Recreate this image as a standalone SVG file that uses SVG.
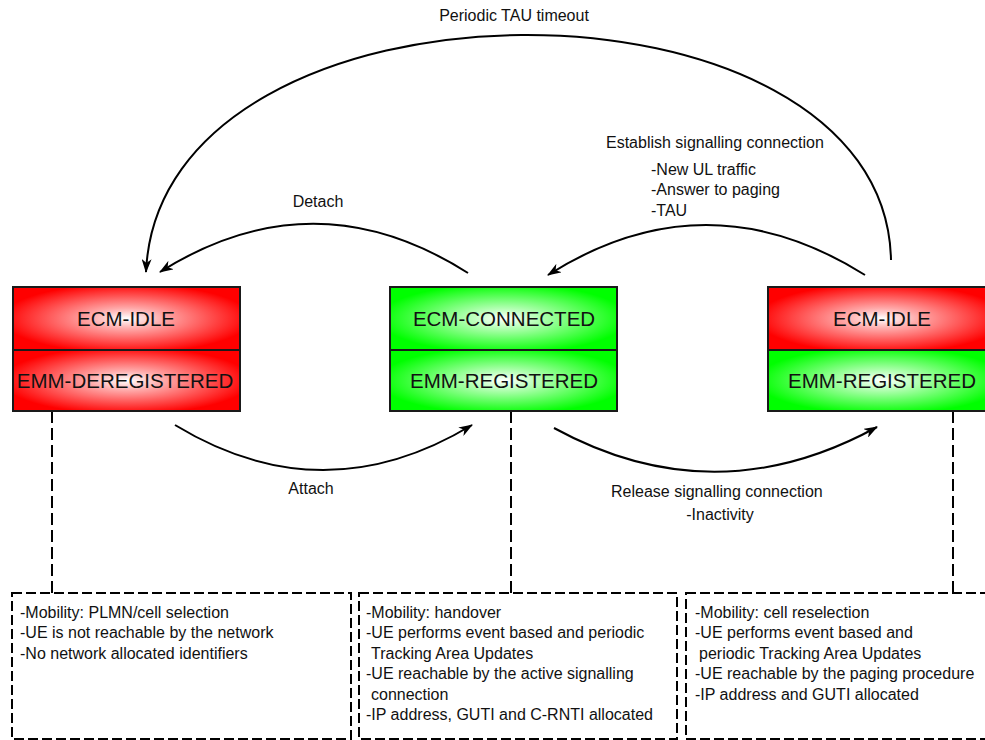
<svg xmlns="http://www.w3.org/2000/svg" width="985" height="740" viewBox="0 0 985 740">
  <style>
    text { font-family: "Liberation Sans", Arial, sans-serif; fill: #111; }
    .state { font-size: 20.5px; text-anchor: middle; }
    .lbl { font-size: 16px; }
    .mid { text-anchor: middle; }
    .note { font-size: 16px; }
    .cell { stroke: #1a1a1a; stroke-width: 2; }
    .arc { fill: none; stroke: #000; stroke-width: 2; marker-end: url(#arrow); }
    .link { fill: none; stroke: #000; stroke-width: 2; stroke-dasharray: 12 5; }
    .frame { fill: #fff; stroke: #000; stroke-width: 2; stroke-dasharray: 10 4; }
  </style>
  <defs>
    <radialGradient id="red" cx="0.5" cy="0.5" r="0.55">
      <stop offset="0" stop-color="#ffffff"/>
      <stop offset="0.3" stop-color="#ffa8a8"/>
      <stop offset="1" stop-color="#ff0000"/>
    </radialGradient>
    <radialGradient id="green" cx="0.5" cy="0.5" r="0.55">
      <stop offset="0" stop-color="#ffffff"/>
      <stop offset="0.3" stop-color="#b0ffb0"/>
      <stop offset="1" stop-color="#00ff00"/>
    </radialGradient>
    <marker id="arrow" viewBox="0 0 14 10" refX="13" refY="5" markerWidth="14" markerHeight="10" markerUnits="userSpaceOnUse" orient="auto">
      <path d="M0,0 L14,5 L0,10 L4,5 z" fill="#000"/>
    </marker>
  </defs>

  <!-- transitions -->
  <g id="connectors">
    <path class="arc" d="M891,260 C885,-42 160,-42 146,272"/>
    <path class="arc" d="M468,273 Q314,175 160,272"/>
    <path class="arc" d="M865,275 Q706,175 548,275"/>
    <path class="arc" d="M175,425 Q323,515 472,425"/>
    <path class="arc" d="M554,428 Q715,516 877,427"/>
    <path class="link" d="M52,411 V593"/>
    <path class="link" d="M511,411 V593"/>
    <path class="link" d="M953,411 V593"/>
  </g>

  <g id="labels">
    <text class="lbl mid" x="514" y="21">Periodic TAU timeout</text>
    <text class="lbl" x="606" y="148">Establish signalling connection</text>
    <text class="lbl" x="651" y="175">-New UL traffic</text>
    <text class="lbl" x="651" y="195">-Answer to paging</text>
    <text class="lbl" x="651" y="216">-TAU</text>
    <text class="lbl mid" x="318" y="207">Detach</text>
    <text class="lbl mid" x="311" y="494">Attach</text>
    <text class="lbl" x="611" y="497">Release signalling connection</text>
    <text class="lbl mid" x="720" y="520">-Inactivity</text>
  </g>

  <!-- state boxes -->
  <g id="deregistered">
    <rect class="cell" x="13" y="287" width="227" height="63" fill="url(#red)"/>
    <rect class="cell" x="13" y="350" width="227" height="61" fill="url(#red)"/>
    <text class="state" x="126" y="326">ECM-IDLE</text>
    <text class="state" x="125" y="388">EMM-DEREGISTERED</text>
  </g>
  <g id="connected">
    <rect class="cell" x="390" y="287" width="227" height="63" fill="url(#green)"/>
    <rect class="cell" x="390" y="350" width="227" height="61" fill="url(#green)"/>
    <text class="state" x="504" y="326">ECM-CONNECTED</text>
    <text class="state" x="504" y="388">EMM-REGISTERED</text>
  </g>
  <g id="idle-registered">
    <rect class="cell" x="768" y="287" width="227" height="63" fill="url(#red)"/>
    <rect class="cell" x="768" y="350" width="227" height="61" fill="url(#green)"/>
    <text class="state" x="882" y="326">ECM-IDLE</text>
    <text class="state" x="882" y="388">EMM-REGISTERED</text>
  </g>

  <!-- characteristics -->
  <g id="note-deregistered">
    <rect class="frame" x="12" y="593" width="339" height="146"/>
    <text class="note" x="20" y="618">-Mobility: PLMN/cell selection</text>
    <text class="note" x="20" y="638">-UE is not reachable by the network</text>
    <text class="note" x="20" y="659">-No network allocated identifiers</text>
  </g>
  <g id="note-connected">
    <rect class="frame" x="359" y="593" width="318" height="146"/>
    <text class="note" x="366" y="618">-Mobility: handover</text>
    <text class="note" x="366" y="638">-UE performs event based and periodic</text>
    <text class="note" x="371" y="659">Tracking Area Updates</text>
    <text class="note" x="366" y="679">-UE reachable by the active signalling</text>
    <text class="note" x="371" y="700">connection</text>
    <text class="note" x="366" y="720">-IP address, GUTI and C-RNTI allocated</text>
  </g>
  <g id="note-idle">
    <rect class="frame" x="686" y="593" width="310" height="146"/>
    <text class="note" x="695" y="618">-Mobility: cell reselection</text>
    <text class="note" x="695" y="638">-UE performs event based and</text>
    <text class="note" x="699" y="659">periodic Tracking Area Updates</text>
    <text class="note" x="695" y="679">-UE reachable by the paging procedure</text>
    <text class="note" x="695" y="700">-IP address and GUTI allocated</text>
  </g>
</svg>
